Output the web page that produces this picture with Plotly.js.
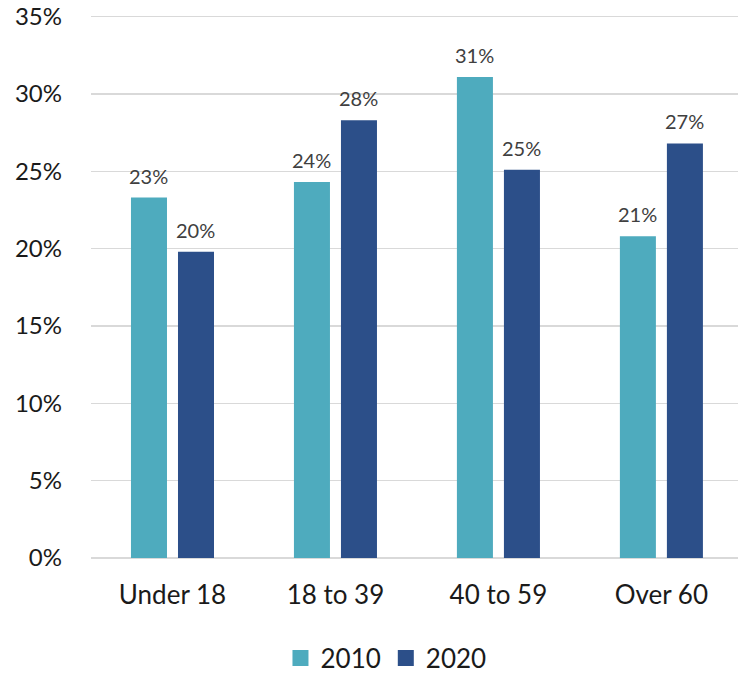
<!DOCTYPE html>
<html>
<head>
<meta charset="utf-8">
<script src="https://cdn.plot.ly/plotly-3.0.1.min.js"></script>
<style>html,body{margin:0;padding:0;background:#fff;}#chart{width:738px;height:673px;}</style>
</head>
<body>
<div id="chart"></div>
<script>
const categories = ["Under 18", "18 to 39", "40 to 59", "Over 60"];
const series2010 = [23.3, 24.3, 31.1, 20.8];
const series2020 = [19.8, 28.3, 25.1, 26.8];
const seriesNames = ["2010", "2020"];
const colors = ["#4eabbe", "#2c4f89"];
const yTicks = [0, 5, 10, 15, 20, 25, 30, 35];

const FONT = "Lato, 'Noto Sans', sans-serif";
const allSeries = [series2010, series2020];

const traces = [];
allSeries.forEach((vals, i) => {
  traces.push({
    type: "bar", x: categories, y: vals, name: seriesNames[i],
    marker: {color: colors[i], line: {width: 0}},
    showlegend: false, hoverinfo: "skip"
  });
});
allSeries.forEach((vals, i) => {
  traces.push({
    type: "scatter", mode: "markers", x: [null], y: [null], name: seriesNames[i],
    marker: {symbol: "square", size: 16, color: colors[i]},
    showlegend: true, hoverinfo: "skip"
  });
});

const annotations = [];
allSeries.forEach((vals, i) => {
  vals.forEach((v, j) => {
    annotations.push({
      x: categories[j], y: v, xref: "x", yref: "y",
      text: Math.round(v) + "%", showarrow: false,
      xanchor: "center", yanchor: "bottom",
      xshift: i === 0 ? -23.5 : 23.5, yshift: 8,
      font: {family: FONT, size: 20, color: "#404040"}
    });
  });
});

const layout = {
  width: 738, height: 673,
  margin: {l: 91, r: 0, t: 14.5, b: 115, pad: 0, autoexpand: false},
  paper_bgcolor: "#fff", plot_bgcolor: "#fff",
  font: {family: FONT, color: "#1a1a1a"},
  barmode: "group", bargap: 0.423, bargroupgap: 0.234,
  xaxis: {
    type: "category", range: [-0.5, 3.47],
    showgrid: false, showline: false, zeroline: false, ticks: "",
    tickfont: {family: FONT, size: 26, color: "#1a1a1a"},
    ticklabelstandoff: 19, fixedrange: true
  },
  yaxis: {
    range: [0, 35.1], tickvals: yTicks, ticktext: yTicks.map(t => t + "%"),
    showgrid: true, gridcolor: "#d9d9d9", gridwidth: 1.5,
    zeroline: true, zerolinecolor: "#d9d9d9", zerolinewidth: 1.5,
    showline: false, ticks: "", ticklabeloverflow: "allow",
    tickfont: {family: FONT, size: 24, color: "#1a1a1a"},
    ticklabelstandoff: 28, fixedrange: true
  },
  legend: {
    orientation: "h", xref: "container", yref: "container",
    x: 0.523, xanchor: "center", y: 0.022, yanchor: "middle",
    font: {family: FONT, size: 26, color: "#1a1a1a"},
    itemclick: false, itemdoubleclick: false
  },
  annotations: annotations,
  showlegend: true
};

Plotly.newPlot("chart", traces, layout, {displayModeBar: false, staticPlot: true});
</script>
</body>
</html>
